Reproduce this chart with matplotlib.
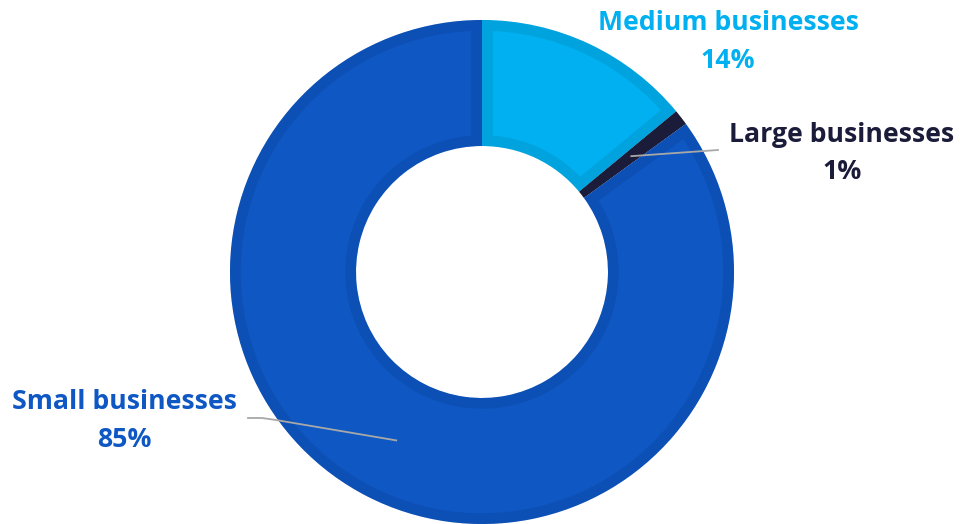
import numpy as np
import matplotlib
matplotlib.use("Agg")
import matplotlib.pyplot as plt
from matplotlib.patches import Wedge

# data
labels = ["Medium businesses", "Large businesses", "Small businesses"]
shares = [14, 1, 85]
colors = ["#00B0F0", "#1B1B3A", "#0F58C4"]
borders = ["#00A3DD", "#1B1B3A", "#0C50B5"]

plt.rcParams['font.family'] = ['Open Sans', 'DejaVu Sans']

fig = plt.figure(figsize=(9.6, 5.24), dpi=100)
ax = fig.add_axes([0, 0, 1, 1])

cx, cy, R, W = 482, 252, 252, 126
wedges, _ = ax.pie(shares, colors=colors, startangle=90, counterclock=False,
                   radius=R, center=(cx, cy),
                   wedgeprops=dict(width=W, edgecolor="white", linewidth=0.5))

# inner border on each slice (clipped to the slice itself)
for w, bc in zip(wedges, borders):
    b = Wedge(w.center, w.r, w.theta1, w.theta2, width=w.width,
              facecolor="none", edgecolor=bc, linewidth=15.5)
    b.set_clip_path(w)
    ax.add_patch(b)

ax.set_xlim(0, 960)
ax.set_ylim(0, 524)
ax.set_aspect("equal")
ax.axis("off")

def mid_point(w, r):
    a = np.deg2rad((w.theta1 + w.theta2) / 2)
    return w.center[0] + r * np.cos(a), w.center[1] + r * np.sin(a)

rm = R - W / 2
line_c = "#A8A8A8"
# leader lines
x0, y0 = mid_point(wedges[1], rm)
ax.plot([x0, 718], [y0, 374], color=line_c, lw=1.3)
x0, y0 = mid_point(wedges[2], rm)
ax.plot([x0, 276, 262, 248], [y0, 104, 106, 106], color=line_c, lw=1.3)

# labels
pos = [(728, 501, 463), (842, 389, 352), (124, 122, 84)]
for lab, s, c, (tx, ty1, ty2) in zip(labels, shares, colors, pos):
    ax.text(tx, ty1, lab, ha="center", va="center", fontsize=19.2,
            fontweight="bold", color=c)
    ax.text(tx, ty2, f"{s}%", ha="center", va="center", fontsize=19.2,
            fontweight="bold", color=c)

fig.savefig("out.png", dpi=100)
